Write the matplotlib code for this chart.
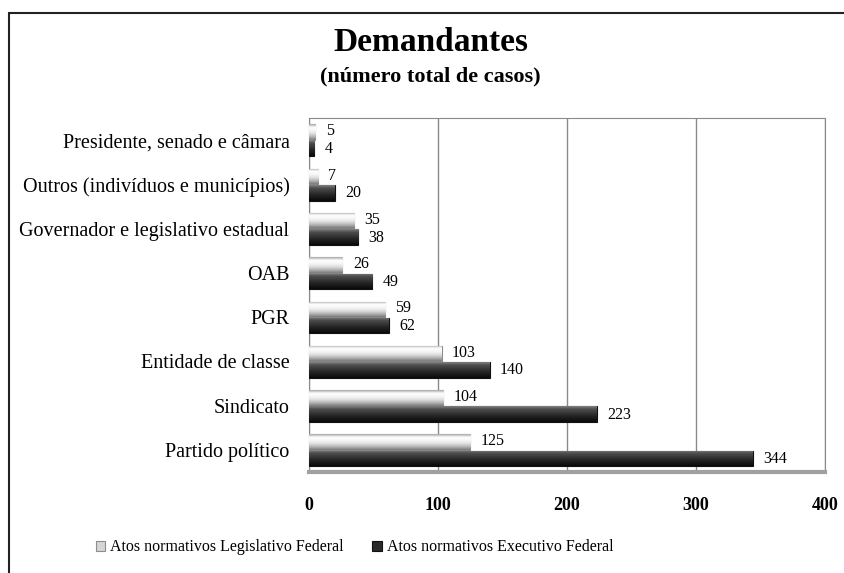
import numpy as np
import matplotlib.pyplot as plt
from matplotlib.colors import LinearSegmentedColormap

categorias = ['Presidente, senado e câmara', 'Outros (indivíduos e municípios)',
              'Governador e legislativo estadual', 'OAB', 'PGR',
              'Entidade de classe', 'Sindicato', 'Partido político']
legislativo = [5, 7, 35, 26, 59, 103, 104, 125]
executivo = [4, 20, 38, 49, 62, 140, 223, 344]
ticks = [0, 100, 200, 300, 400]

plt.rcParams['font.family'] = ['Liberation Serif', 'DejaVu Serif']

fig = plt.figure(figsize=(8.44, 5.73), dpi=100)
ax = fig.add_axes([0.366, 0.176, 0.6115, 0.618])

y = np.arange(len(categorias))
h = 0.35
bars_l = ax.barh(y - 0.18, legislativo, height=h, color='#d6d6d6', edgecolor='#8c8c8c', lw=0.8, zorder=3)
bars_e = ax.barh(y + 0.19, executivo, height=h, color='#2a2a2a', edgecolor='#111111', lw=0.8, zorder=3)

# gradiente tipo 3D dentro das barras
cm_l = LinearSegmentedColormap.from_list('l', ['#a8a8a8', '#ffffff', '#f6f6f6', '#e0e0e0', '#b4b4b4', '#7c7c7c'])
cm_e = LinearSegmentedColormap.from_list('e', ['#808080', '#4c4c4c', '#3a3a3a', '#262626', '#181818', '#0a0a0a'])
grad = np.linspace(0, 1, 60).reshape(-1, 1)
for bars, cm in ((bars_l, cm_l), (bars_e, cm_e)):
    for b in bars:
        x0, y0 = b.get_x(), b.get_y()
        w, hh = b.get_width(), b.get_height()
        im = ax.imshow(grad, cmap=cm, aspect='auto', extent=(x0, x0 + w, y0 + hh, y0),
                       origin='upper', zorder=3.5, interpolation='bilinear')
        im.set_clip_path(b)

for i in range(len(categorias)):
    ax.text(legislativo[i] + 8, y[i] - 0.2, str(legislativo[i]), fontsize=11.5, va='center', ha='left')
    ax.text(executivo[i] + 8, y[i] + 0.2, str(executivo[i]), fontsize=11.5, va='center', ha='left')

ax.set_xlim(0, 400)
ax.set_ylim(len(categorias) - 0.5, -0.5)
ax.set_xticks(ticks)
ax.set_xticklabels([str(t) for t in ticks], fontsize=13, fontweight='bold')
ax.set_yticks(y)
ax.set_yticklabels(categorias, fontsize=14.5)
ax.tick_params(axis='y', length=0, pad=14)
ax.tick_params(axis='x', length=0, pad=18)
ax.grid(axis='x', color='#8a8a8a', lw=1, zorder=0)
for s in ax.spines.values():
    s.set_color('#8a8a8a')
ax.spines['bottom'].set_linewidth(3)
ax.spines['bottom'].set_color('#a0a0a0')

fig.text(0.51, 0.925, 'Demandantes', ha='center', va='center', fontsize=24, fontweight='bold')
fig.text(0.51, 0.867, '(número total de casos)', ha='center', va='center', fontsize=16, fontweight='bold')

leg = fig.legend([bars_l, bars_e],
                 ['Atos normativos Legislativo Federal', 'Atos normativos Executivo Federal'],
                 loc='center', bbox_to_anchor=(0.42, 0.045), ncol=2, frameon=False,
                 fontsize=11.5, handlelength=0.6, handleheight=0.6, handletextpad=0.3, columnspacing=1.8)

# moldura externa
fig.patches.append(plt.Rectangle((0.011, -0.02), 1.02, 0.998, transform=fig.transFigure,
                                 fill=False, edgecolor='#222222', lw=1.5))

fig.savefig('out.png', dpi=100)
